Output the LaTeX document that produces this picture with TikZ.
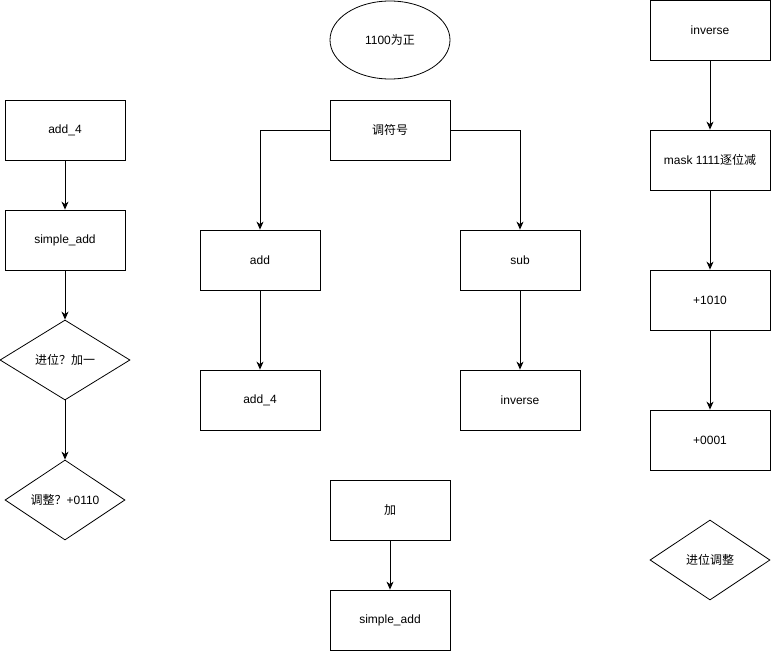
\documentclass[tikz,border=0pt]{standalone}
\usepackage{fontspec}
\setmainfont{Liberation Sans}
\newfontfamily\cjk{Noto Sans CJK SC}
\usetikzlibrary{arrows.meta,positioning,shapes.geometric}
\tikzset{%
  link/.style={-{Stealth[length=8pt,width=7pt,inset=2.5pt]},line width=1pt},
  step box/.style={rectangle,draw,line width=0.8pt,minimum width=120pt,minimum height=60pt,inner sep=0pt,align=center},
  test/.style={diamond,draw,line width=0.8pt,minimum width=#1,minimum height=80pt,inner sep=0pt,aspect=1.6,align=center},
  test/.default=120pt,
  start/.style={ellipse,draw,line width=0.8pt,minimum width=120pt,minimum height=78pt,inner sep=0pt}
}

\begin{document}
\begin{tikzpicture}[x=1pt,y=-1pt,font=\fontsize{12}{14}\selectfont]
 \useasboundingbox (0,0) rectangle (771,651);

 % left column
 \node[step box] (ladd4) at (65,130) {add\_4};
 \node[step box] (lsadd) at (65,240) {simple\_add};
 \node[test=130pt] (carry) at (65,360) {{\cjk 进位？加一}};
 \node[test] (adjust) at (65,500) {{\cjk 调整？}+0110};

 \draw[link] (ladd4) to (lsadd);
 \draw[link] (lsadd) to (carry);
 \draw[link] (carry) to (adjust);

 % middle column
 \node[start] (pos) at (390,40) {1100{\cjk 为正}};
 \node[step box] (sign) at (390,130) {{\cjk 调符号}};
 \node[step box] (add) at (260,260) {add};
 \node[step box] (sub) at (520,260) {sub};
 \node[step box] (madd4) at (260,400) {add\_4};
 \node[step box] (minv) at (520,400) {inverse};
 \node[step box] (plus) at (390,510) {{\cjk 加}};
 \node[step box] (msadd) at (390,620) {simple\_add};

 \draw[link] (sign.west) -| (add.north);
 \draw[link] (sign.east) -| (sub.north);
 \draw[link] (add) to (madd4);
 \draw[link] (sub) to (minv);
 \draw[link] (plus) to (msadd);

 % right column
 \node[step box] (rinv) at (710,30) {inverse};
 \node[step box] (mask) at (710,160) {mask 1111{\cjk 逐位减}};
 \node[step box] (p1010) at (710,300) {+1010};
 \node[step box] (p0001) at (710,440) {+0001};
 \node[test] (radj) at (710,560) {{\cjk 进位调整}};

 \draw[link] (rinv) to (mask);
 \draw[link] (mask) to (p1010);
 \draw[link] (p1010) to (p0001);

\end{tikzpicture}
\end{document}
